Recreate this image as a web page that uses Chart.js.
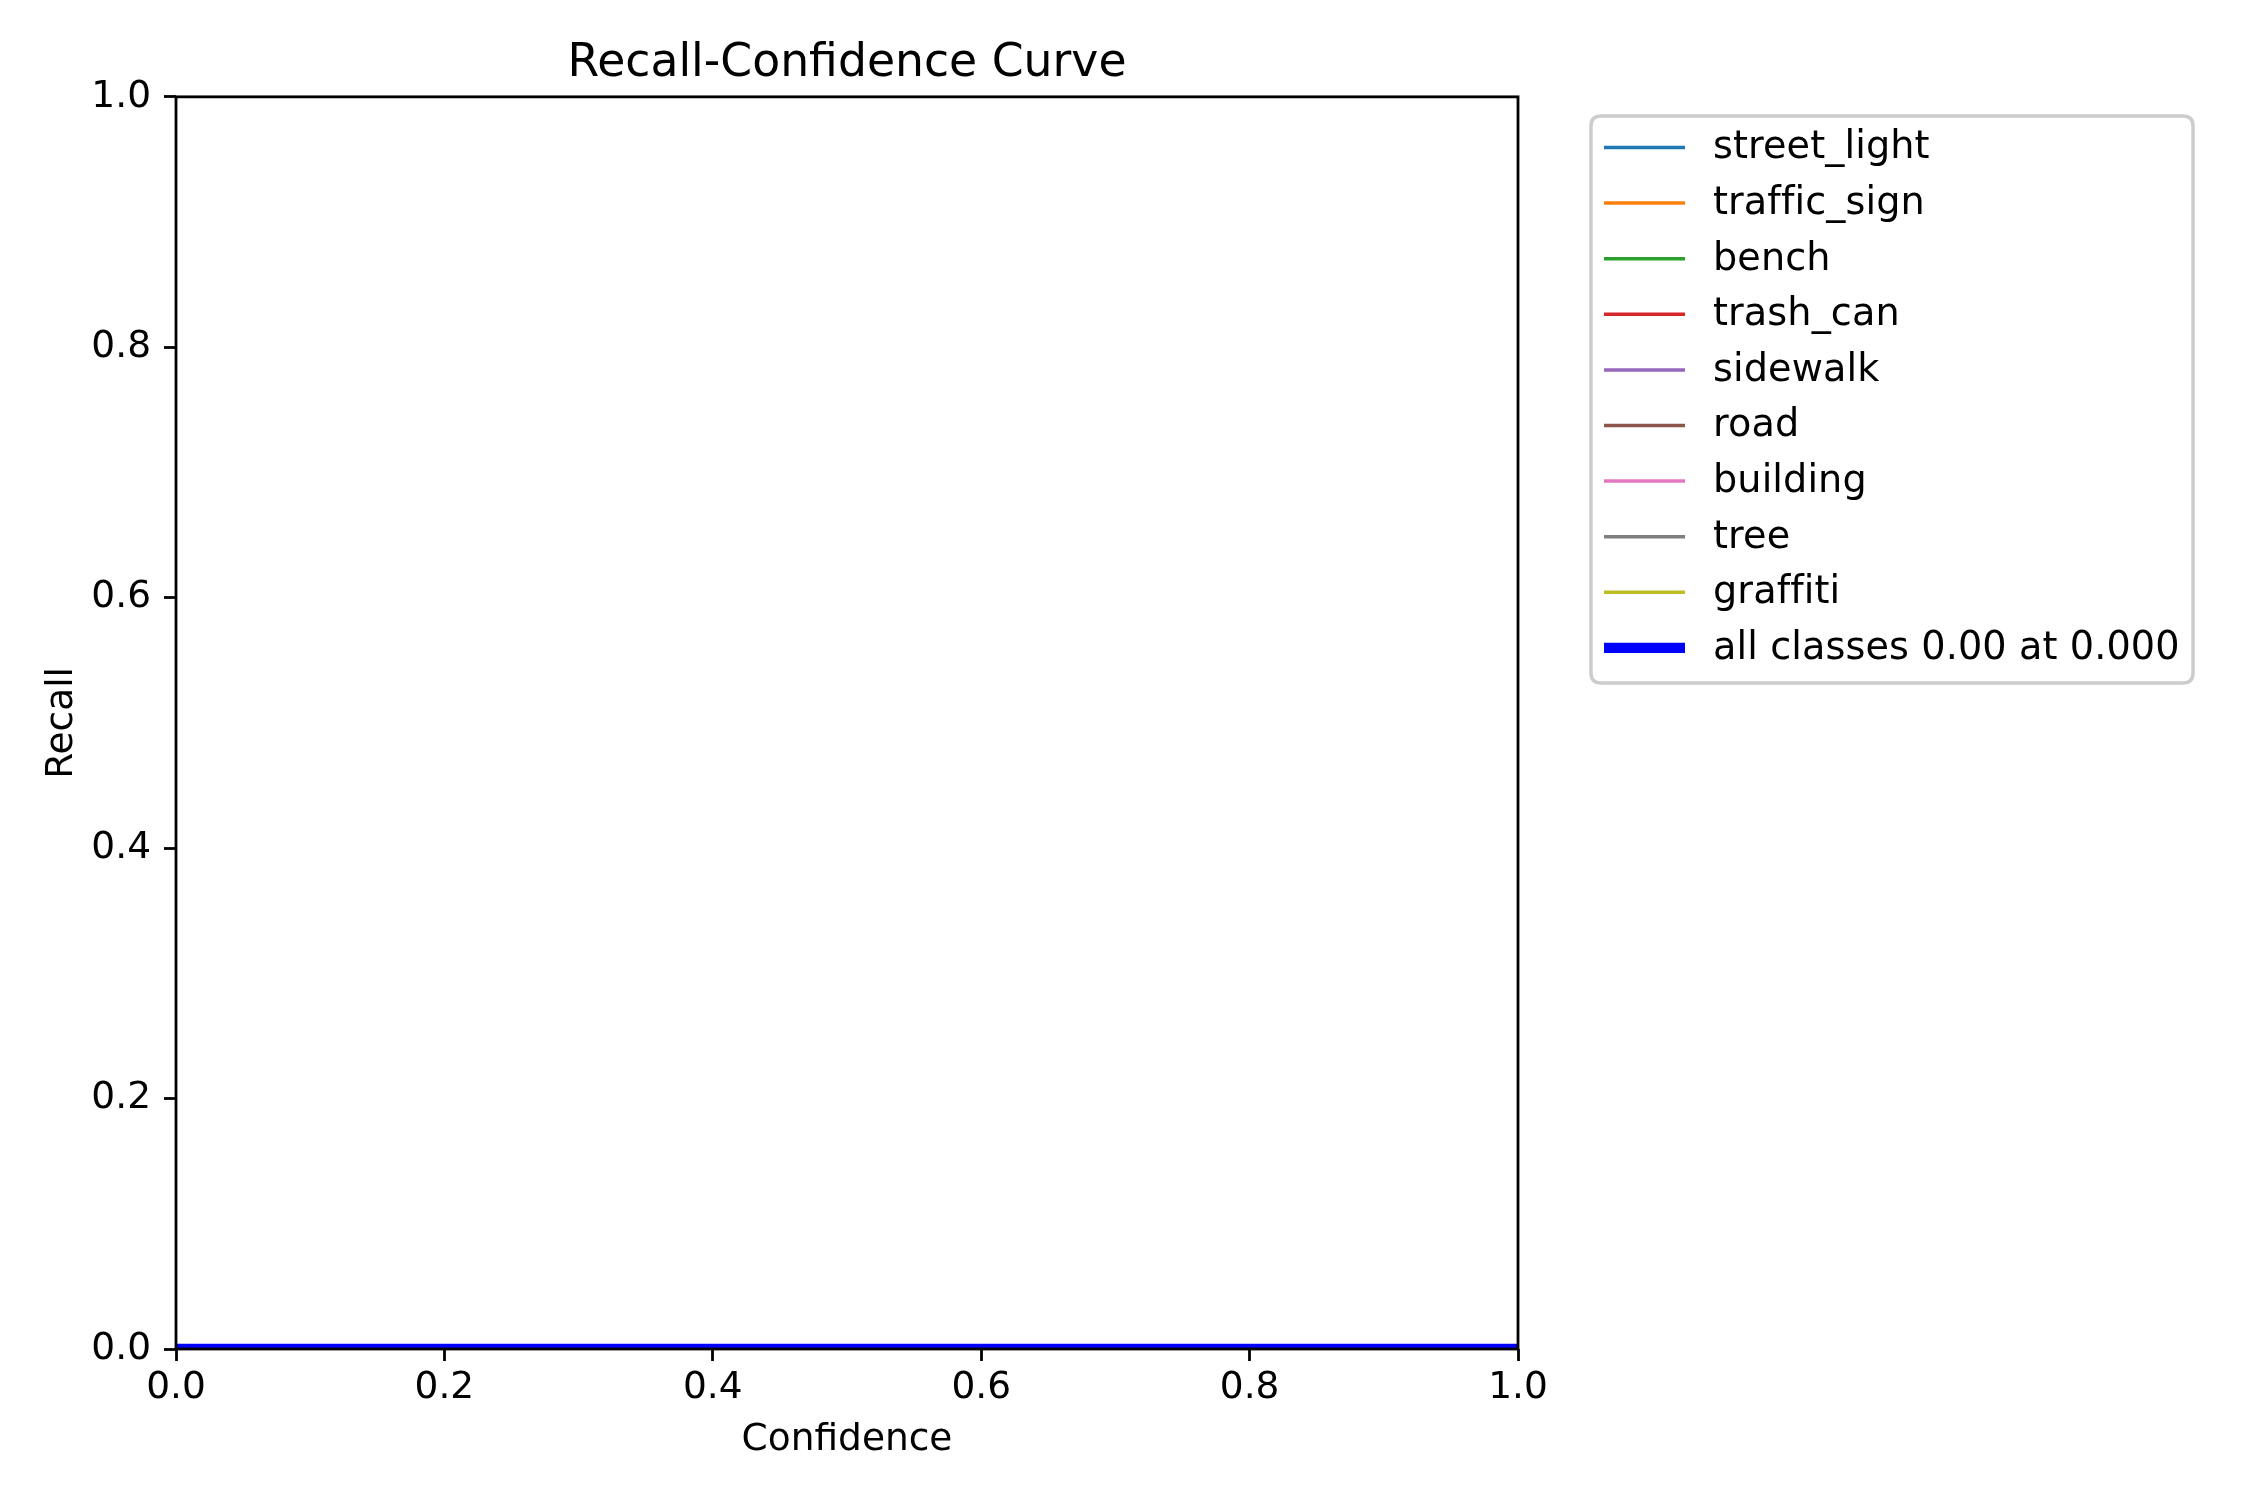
<!DOCTYPE html>
<html><head><meta charset="utf-8">
<script src="https://cdn.jsdelivr.net/npm/chart.js@4.4.1/dist/chart.umd.min.js"></script>
<style>html,body{margin:0;padding:0;background:#fff;overflow:hidden}canvas{display:block}</style>
</head><body>
<canvas id="c" width="2250" height="1500" style="width:2250px;height:1500px"></canvas>
<script>
// ---- data ----
const chartTitle = 'Recall-Confidence Curve';
const xAxisTitle = 'Confidence';
const yAxisTitle = 'Recall';
const confidence = [0.0, 0.2, 0.4, 0.6, 0.8, 1.0];
const classNames = ['street_light', 'traffic_sign', 'bench', 'trash_can', 'sidewalk', 'road', 'building', 'tree', 'graffiti'];
const streetLight = [0, 0, 0, 0, 0, 0];
const trafficSign = [0, 0, 0, 0, 0, 0];
const bench = [0, 0, 0, 0, 0, 0];
const trashCan = [0, 0, 0, 0, 0, 0];
const sidewalk = [0, 0, 0, 0, 0, 0];
const road = [0, 0, 0, 0, 0, 0];
const building = [0, 0, 0, 0, 0, 0];
const tree = [0, 0, 0, 0, 0, 0];
const graffiti = [0, 0, 0, 0, 0, 0];
const allClassesLabel = 'all classes 0.00 at 0.000';
const allClasses = [0, 0, 0, 0, 0, 0];
const xTickValues = [0.0, 0.2, 0.4, 0.6, 0.8, 1.0];
const xTickLabels = ['0.0', '0.2', '0.4', '0.6', '0.8', '1.0'];
const yTickValues = [0.0, 0.2, 0.4, 0.6, 0.8, 1.0];
const yTickLabels = ['0.0', '0.2', '0.4', '0.6', '0.8', '1.0'];

// ---- styles ----
const classSeries = [streetLight, trafficSign, bench, trashCan, sidewalk, road, building, tree, graffiti];
const classColors = ['#1f77b4', '#ff7f0e', '#2ca02c', '#d62728', '#9467bd', '#8c564b', '#e377c2', '#7f7f7f', '#bcbd22'];
const FONT = "'DejaVu Sans', 'Liberation Sans', sans-serif";
const FS = 37.5;
const toPts = arr => confidence.map((c, i) => ({x: c, y: arr[i]}));

const datasets = classSeries.map((s, i) => ({
  label: classNames[i], data: toPts(s), borderColor: classColors[i], backgroundColor: classColors[i],
  borderWidth: 3.5, pointRadius: 0, fill: false, clip: 0, order: 1
}));
datasets.push({
  label: allClassesLabel, data: toPts(allClasses), borderColor: '#0000ff', backgroundColor: '#0000ff',
  borderWidth: 10.4, pointRadius: 0, fill: false, clip: 0, order: 0
});

const framePlugin = {
  id: 'frame',
  afterDatasetsDraw(chart) {
    const {ctx, chartArea: a} = chart;
    ctx.save();
    ctx.strokeStyle = '#000'; ctx.lineWidth = 2.8;
    ctx.strokeRect(a.left, a.top, a.right - a.left, a.bottom - a.top);
    ctx.restore();
  }
};

const legendPlugin = {
  id: 'boxLegend',
  afterDraw(chart) {
    const ctx = chart.ctx;
    const L = 1591, T = 116, R = 2193, B = 683, r = 10;
    ctx.save();
    ctx.fillStyle = 'rgba(255,255,255,0.8)';
    ctx.strokeStyle = '#cccccc'; ctx.lineWidth = 3.5;
    ctx.beginPath();
    ctx.moveTo(L + r, T); ctx.lineTo(R - r, T); ctx.quadraticCurveTo(R, T, R, T + r);
    ctx.lineTo(R, B - r); ctx.quadraticCurveTo(R, B, R - r, B);
    ctx.lineTo(L + r, B); ctx.quadraticCurveTo(L, B, L, B - r);
    ctx.lineTo(L, T + r); ctx.quadraticCurveTo(L, T, L + r, T);
    ctx.closePath(); ctx.fill(); ctx.stroke();
    const y0 = 147.5, step = 55.6;
    ctx.font = '38.2px ' + FONT; ctx.textBaseline = 'middle'; ctx.textAlign = 'left';
    if ('letterSpacing' in ctx) ctx.letterSpacing = '0.1px';
    chart.data.datasets.forEach((ds, i) => {
      const y = y0 + i * step;
      ctx.strokeStyle = ds.borderColor; ctx.lineWidth = ds.borderWidth; ctx.lineCap = 'butt';
      ctx.beginPath(); ctx.moveTo(1604, y); ctx.lineTo(1685, y); ctx.stroke();
      ctx.fillStyle = '#000';
      ctx.fillText(ds.label, 1713, y + 1);
    });
    ctx.restore();
  }
};

new Chart(document.getElementById('c'), {
  type: 'line',
  data: {datasets},
  options: {
    responsive: false, animation: false, devicePixelRatio: 1,
    layout: {padding: {left: 0, right: 732, top: 0, bottom: 0}},
    plugins: {
      legend: {display: false}, tooltip: {enabled: false},
      title: {display: true, text: chartTitle, fullSize: false, color: '#000',
        font: {family: FONT, size: 45.7, weight: 'normal', lineHeight: 1.2}, padding: {top: 37, bottom: 5}}
    },
    scales: {
      x: {
        type: 'linear', min: 0, max: 1,
        afterFit: s => { s.height = 151; },
        afterBuildTicks: s => { s.ticks = xTickValues.map(v => ({value: v})); },
        ticks: {color: '#000', font: {family: FONT, size: FS}, padding: 5, maxRotation: 0,
          callback: (v, i) => xTickLabels[i]},
        grid: {display: true, drawOnChartArea: false, drawTicks: true, tickLength: 12, tickWidth: 2.8, tickColor: '#000'},
        border: {display: false},
        title: {display: true, text: xAxisTitle, color: '#000', font: {family: FONT, size: FS, lineHeight: 1.2}, padding: {top: 0, bottom: 37}}
      },
      y: {
        type: 'linear', min: 0, max: 1,
        afterFit: s => { s.width = 176; },
        afterBuildTicks: s => { s.ticks = yTickValues.map(v => ({value: v})); },
        ticks: {color: '#000', font: {family: FONT, size: FS}, padding: 13,
          callback: (v, i) => yTickLabels[i]},
        grid: {display: true, drawOnChartArea: false, drawTicks: true, tickLength: 12, tickWidth: 2.8, tickColor: '#000'},
        border: {display: false},
        title: {display: true, text: yAxisTitle, color: '#000', font: {family: FONT, size: FS, lineHeight: 1.2}, padding: {top: 40, bottom: 0}}
      }
    }
  },
  plugins: [framePlugin, legendPlugin]
});
</script>
</body></html>
